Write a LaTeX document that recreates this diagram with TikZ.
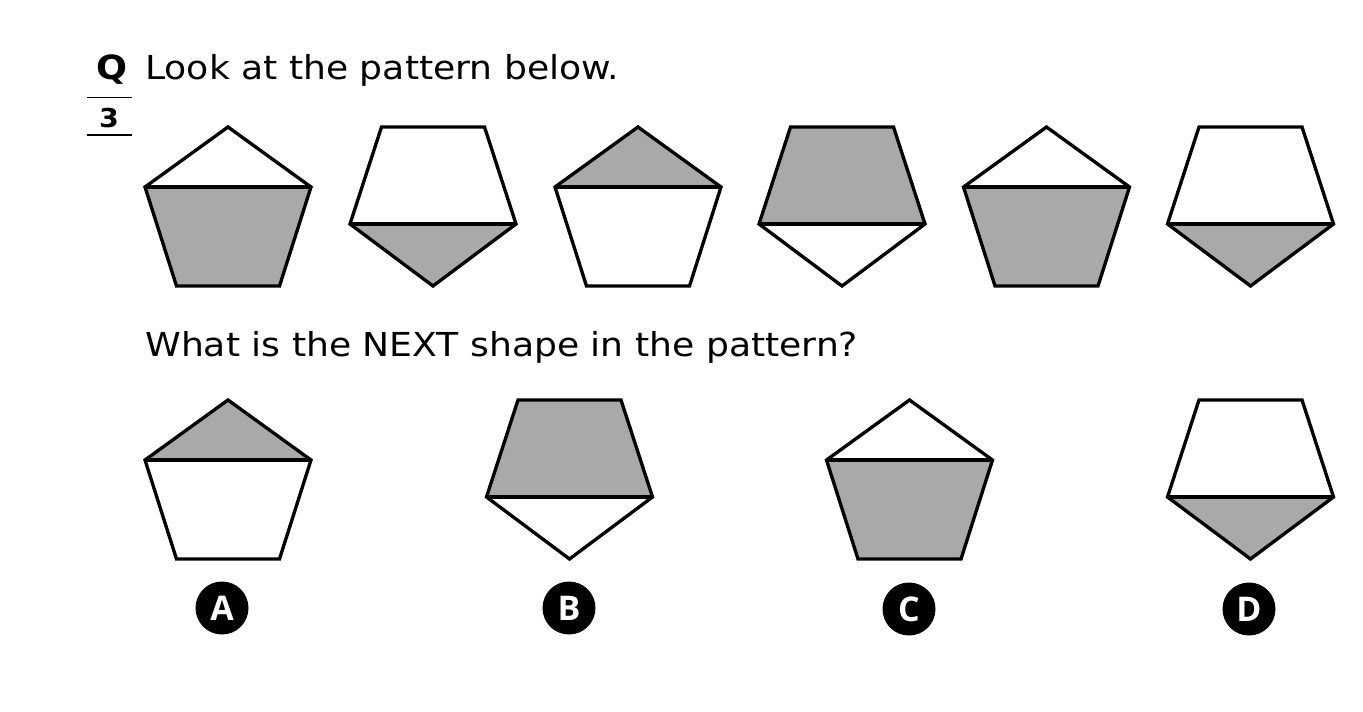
\documentclass[tikz,border=0pt]{standalone}
\usepackage{fontspec}
\setmainfont{DejaVu Sans}
\newfontfamily\qfont{DejaVu Sans}[FakeStretch=1.095]
\newfontfamily\letfont{Open Sans}
\definecolor{shadegray}{HTML}{A9A9A9}
\tikzset{
  shapeline/.style={line width=2.5pt, line join=miter, black},
  divline/.style={line width=2.8pt, black},
  rulel/.style={line width=1.1pt, black},
  qtext/.style={anchor=base west, inner sep=0pt, font=\qfont\fontsize{24.75}{30}\selectfont},
  letcirc/.style={circle, fill=black, minimum size=53*0.75pt, inner sep=0pt, text=white, font=\letfont\bfseries\fontsize{25.5}{30}\selectfont}
}
\newcommand\PentUp[4]{%
  \fill[#3] (#1,#2) -- ({#1-83},{#2+60}) -- ({#1+83},{#2+60}) -- cycle;
  \fill[#4] ({#1-83},{#2+60}) -- ({#1+83},{#2+60}) -- ({#1+51.5},{#2+159}) -- ({#1-51.5},{#2+159}) -- cycle;
  \draw[shapeline] (#1,#2) -- ({#1+83},{#2+60}) -- ({#1+51.5},{#2+159}) -- ({#1-51.5},{#2+159}) -- ({#1-83},{#2+60}) -- cycle;
  \draw[divline] ({#1-83},{#2+60}) -- ({#1+83},{#2+60});
}
\newcommand\PentDown[4]{%
  \fill[#3] ({#1-51.5},#2) -- ({#1+51.5},#2) -- ({#1+83},{#2+97}) -- ({#1-83},{#2+97}) -- cycle;
  \fill[#4] ({#1-83},{#2+97}) -- ({#1+83},{#2+97}) -- (#1,{#2+159}) -- cycle;
  \draw[shapeline] ({#1-51.5},#2) -- ({#1+51.5},#2) -- ({#1+83},{#2+97}) -- (#1,{#2+159}) -- ({#1-83},{#2+97}) -- cycle;
  \draw[divline] ({#1-83},{#2+97}) -- ({#1+83},{#2+97});
}
\begin{document}
\begin{tikzpicture}[x=0.75pt,y=-0.75pt]
\useasboundingbox[fill=white] (0,0) rectangle (1363,711);
% header
\node[anchor=base west, inner sep=0pt, font=\qfont\bfseries\fontsize{25}{30}\selectfont] (q) at (96,79) {Q};
\node[qtext] (title) at (145,79.5) {Look at the pattern below.};
\coordinate (r1a) at (87,97.5);
\coordinate (r1b) at (132,97.5);
\coordinate (r2a) at (87,135);
\coordinate (r2b) at (132,135);
\draw[rulel] (r1a) -- (r1b);
\draw[rulel] (r2a) -- (r2b);
\node[anchor=base, inner sep=0pt, font=\qfont\bfseries\fontsize{19.5}{24}\selectfont] (num) at (109,127) {3};
% pattern row
\PentUp{228}{127}{white}{shadegray}
\PentDown{433}{127}{white}{shadegray}
\PentUp{638}{127}{shadegray}{white}
\PentDown{842}{127}{shadegray}{white}
\PentUp{1046.5}{127}{white}{shadegray}
\PentDown{1250.5}{127}{white}{shadegray}
% question
\node[qtext] (quest) at (145,356) {What is the NEXT shape in the pattern?};
% answers
\PentUp{228}{400}{shadegray}{white}
\PentDown{569.5}{400}{shadegray}{white}
\PentUp{909.5}{400}{white}{shadegray}
\PentDown{1250.5}{400}{white}{shadegray}
\node[letcirc] (la) at (222,608) {A};
\node[letcirc] (lb) at (569,608) {B};
\node[letcirc] (lc) at (909,609) {C};
\node[letcirc] (ld) at (1249,609) {D};
\end{tikzpicture}
\end{document}
